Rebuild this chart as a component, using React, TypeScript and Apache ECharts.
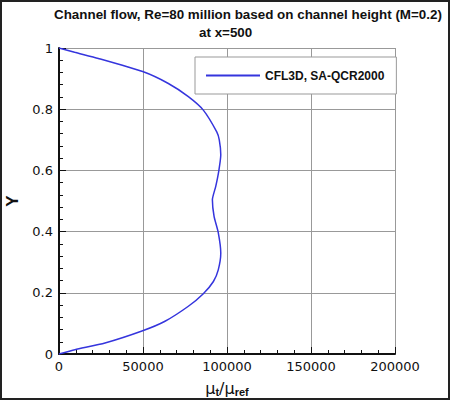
import React from 'react';
import * as echarts from 'echarts';

// Y / channel height, from the bottom wall to the top wall
const yPositions = [
  0, 0.014, 0.036, 0.076, 0.107, 0.156, 0.197, 0.237, 0.275, 0.33, 0.397, 0.45, 0.504,
  0.548, 0.598, 0.651, 0.7, 0.726, 0.797, 0.841, 0.884, 0.923, 0.966, 0.986, 1,
];
// mu_t / mu_ref at each Y
const muRatio = [
  0, 9500, 27400, 49800, 63100, 77000, 85900, 91900, 94800, 96300, 94800, 92300, 91300,
  93300, 95100, 96300, 95400, 93900, 85900, 77000, 65100, 49800, 23400, 9300, 0,
];

const seriesName = 'CFL3D, SA-QCR2000';
const titleLine1 = 'Channel flow, Re=80 million based on channel height (M=0.2)';
const titleLine2 = 'at x=500';

const App: React.FC = () => {
  const chartRef = React.useRef<HTMLDivElement>(null);

  React.useEffect(() => {
    if (!chartRef.current) return;
    const chart = echarts.init(chartRef.current, undefined, { renderer: 'svg' });

    const tickFont = { fontFamily: 'DejaVu Sans', fontSize: 13, color: '#111' };
    const titleFont = { fontFamily: 'Liberation Sans', fontSize: 13.4, fontWeight: 'bold', color: '#111' };

    chart.setOption({
      animation: false,
      backgroundColor: '#fff',
      title: [
        { text: titleLine1, left: 54, top: 8, padding: 0, textStyle: titleFont },
        { text: titleLine2, left: 199, top: 26, padding: 0, textStyle: titleFont },
      ],
      legend: {
        left: 195,
        top: 57,
        padding: [12, 12, 12, 11],
        itemWidth: 54,
        itemHeight: 2,
        itemGap: 9,
        icon: 'rect',
        backgroundColor: '#fff',
        borderColor: '#999',
        borderWidth: 1,
        textStyle: { fontFamily: 'Liberation Sans', fontSize: 12, fontWeight: 'bold', color: '#111', lineHeight: 13 },
        data: [seriesName],
      },
      grid: { left: 59, right: 55, top: 48, bottom: 46, outerBoundsMode: 'none' },
      xAxis: {
        type: 'value',
        min: 0,
        max: 200000,
        interval: 50000,
        name: '{a|μ}{b|t}{a|/μ}{b|ref}',
        nameLocation: 'middle',
        nameGap: 26,
        nameTextStyle: {
          rich: {
            a: { fontFamily: 'DejaVu Sans', fontSize: 16, color: '#111', verticalAlign: 'top', lineHeight: 17 },
            b: {
              fontFamily: 'Liberation Sans',
              fontSize: 11,
              fontWeight: 'bold',
              color: '#111',
              verticalAlign: 'bottom',
              lineHeight: 11,
              padding: [9, 0, 0, 0],
            },
          },
        },
        axisLine: { show: true, lineStyle: { color: '#111', width: 2 } },
        axisTick: { show: true, inside: true, length: 7, lineStyle: { color: '#111', width: 1 } },
        minorTick: { show: true, splitNumber: 5, length: 4, lineStyle: { color: '#111', width: 1 } },
        splitLine: { show: true, lineStyle: { color: '#999', width: 1 } },
        axisLabel: { ...tickFont, margin: 6, formatter: (v: number) => String(v) },
      },
      yAxis: {
        type: 'value',
        min: 0,
        max: 1,
        interval: 0.2,
        name: 'Y',
        nameLocation: 'middle',
        nameGap: 38,
        nameTextStyle: { fontFamily: 'Liberation Sans', fontSize: 17, fontWeight: 'bold', color: '#111' },
        axisLine: { show: true, lineStyle: { color: '#111', width: 2 } },
        axisTick: { show: true, inside: true, length: 7, lineStyle: { color: '#111', width: 1 } },
        minorTick: { show: true, splitNumber: 5, length: 4, lineStyle: { color: '#111', width: 1 } },
        splitLine: { show: true, lineStyle: { color: '#999', width: 1 } },
        axisLabel: { ...tickFont, margin: 6, formatter: (v: number) => String(v) },
      },
      series: [
        {
          name: seriesName,
          type: 'line',
          symbol: 'none',
          smooth: 0.2,
          lineStyle: { color: '#3535dd', width: 1.5 },
          itemStyle: { color: '#3535dd' },
          data: yPositions.map((y, i) => [muRatio[i], y]),
        },
      ],
      graphic: [
        {
          type: 'rect',
          shape: { x: 1, y: 1, width: 448, height: 398 },
          style: { fill: 'none', stroke: '#222', lineWidth: 2 },
          silent: true,
          z: 100,
        },
      ],
    });

    return () => {
      chart.dispose();
    };
  }, []);

  return (
    <div
      ref={chartRef}
      style={{ position: 'absolute', left: 0, top: 0, width: 450, height: 400 }}
    />
  );
};

export default App;
